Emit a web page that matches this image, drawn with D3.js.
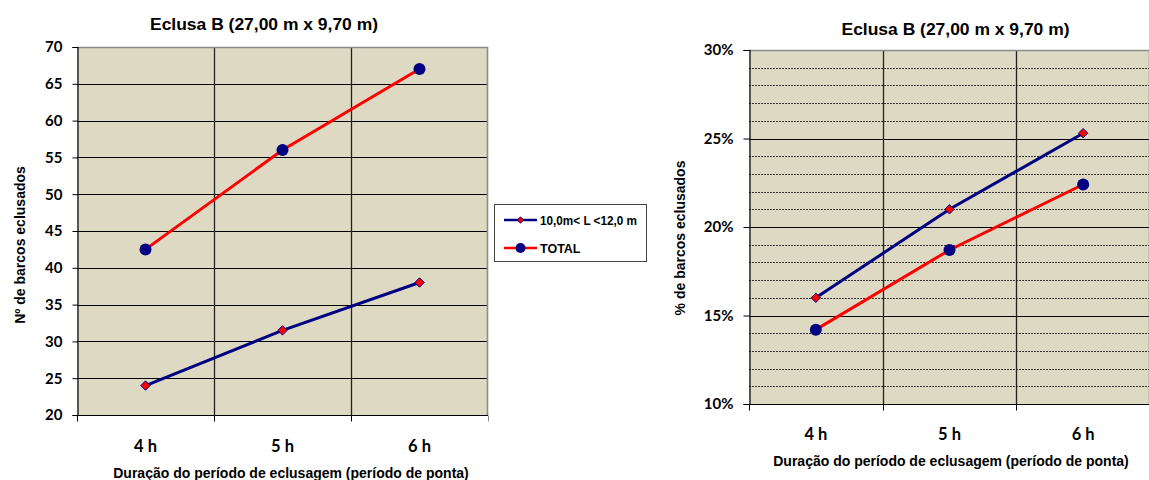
<!DOCTYPE html>
<html>
<head>
<meta charset="utf-8">
<script src="https://cdn.jsdelivr.net/npm/d3@7"></script>
<style>
  html, body { margin: 0; padding: 0; background: #fff; }
  svg { display: block; }
  .title, .axis-title, .legend text { font-family: "Liberation Sans", Arial, sans-serif; font-weight: bold; fill: #000; }
  .tick text { font-family: Lato, "Open Sans", sans-serif; font-weight: bold; fill: #000; }
</style>
</head>
<body>
<svg id="chart" width="1149" height="480"></svg>
<script>
// Durations of the peak period
const categories = ["4 h", "5 h", "6 h"];

// Number of boats locked through
const countMid = [24, 31.5, 38];          // 10,0m< L <12,0 m
const countTotal = [42.5, 56, 67];        // TOTAL
const countTicks = [20, 25, 30, 35, 40, 45, 50, 55, 60, 65, 70];

// Share of boats locked through
const shareMid = [0.160, 0.210, 0.253];
const shareTotal = [0.142, 0.187, 0.224];
const shareTicks = [0.10, 0.15, 0.20, 0.25, 0.30];
const shareMinorTicks = [0.11, 0.12, 0.13, 0.14, 0.16, 0.17, 0.18, 0.19, 0.21, 0.22, 0.23, 0.24, 0.26, 0.27, 0.28, 0.29];

const seriesNames = ["10,0m< L <12,0 m", "TOTAL"];
const chartTitle = "Eclusa B (27,00 m x 9,70 m)";
const xTitle = "Duração do período de eclusagem (período de ponta)";

const NAVY = "#000080", RED = "#FF0000", PLOT_BG = "#DDD9C3";

const svg = d3.select("#chart");

function drawPanel(cfg) {
  const g = svg.append("g");
  const x = d3.scaleBand().domain(categories).range([cfg.left, cfg.right]);
  const y = d3.scaleLinear().domain(cfg.domain).range([cfg.bottom, cfg.top]);

  // plot area
  g.append("rect")
    .attr("x", cfg.left).attr("y", cfg.top)
    .attr("width", cfg.right - cfg.left).attr("height", cfg.bottom - cfg.top)
    .attr("fill", PLOT_BG);

  // minor dotted gridlines
  if (cfg.minor) {
    g.selectAll(".minor").data(cfg.minor).join("line")
      .attr("x1", cfg.left).attr("x2", cfg.right)
      .attr("y1", d => Math.round(y(d)) + 0.5).attr("y2", d => Math.round(y(d)) + 0.5)
      .attr("stroke", "#333").attr("stroke-width", 1).attr("stroke-dasharray", "2,1");
  }

  // major horizontal gridlines
  g.selectAll(".hgrid").data(cfg.ticks.filter(t => t !== cfg.domain[0] && t !== cfg.domain[1])).join("line")
    .attr("x1", cfg.left).attr("x2", cfg.right)
    .attr("y1", d => Math.round(y(d)) + 0.5).attr("y2", d => Math.round(y(d)) + 0.5)
    .attr("stroke", "#000").attr("stroke-width", 1);

  // vertical gridlines at category boundaries
  const bounds = categories.slice(1).map(c => x(c));
  g.selectAll(".vgrid").data(bounds).join("line")
    .attr("x1", d => Math.round(d) + 0.5).attr("x2", d => Math.round(d) + 0.5)
    .attr("y1", cfg.top).attr("y2", cfg.bottom)
    .attr("stroke", "#222").attr("stroke-width", 1.3);

  // plot border (top / right)
  g.append("path")
    .attr("d", `M${cfg.left},${cfg.top + 0.5}H${cfg.right - 0.5}V${cfg.bottom}`)
    .attr("fill", "none").attr("stroke", "#8a8a8a").attr("stroke-width", 1.6);

  // y axis
  const yAxis = d3.axisLeft(y).tickValues(cfg.ticks).tickFormat(cfg.format)
    .tickSize(cfg.tickLen).tickPadding(cfg.tickPad);
  const ya = g.append("g").attr("transform", `translate(${cfg.left + 0.5},0)`).call(yAxis);
  ya.select(".domain").attr("stroke", "#000").attr("stroke-width", 1.2);
  ya.selectAll(".tick line").attr("stroke", "#000");
  ya.selectAll(".tick text").attr("font-size", 15);

  // x axis: boundary ticks plus centered labels
  const xa = g.append("g").attr("transform", `translate(0,${cfg.bottom + 0.5})`);
  xa.append("line").attr("x1", cfg.left).attr("x2", cfg.right)
    .attr("stroke", "#000").attr("stroke-width", 1.2);
  const edges = [cfg.left].concat(bounds, [cfg.right]);
  xa.selectAll(".xt").data(edges).join("line")
    .attr("x1", d => Math.round(d) + 0.5).attr("x2", d => Math.round(d) + 0.5)
    .attr("y1", 0).attr("y2", 6).attr("stroke", (d, i) => i === edges.length - 1 ? "#888" : "#000");
  const xAxis = d3.axisBottom(x).tickSize(0).tickPadding(cfg.xLabelPad);
  const xl = g.append("g").attr("transform", `translate(0,${cfg.bottom})`).call(xAxis);
  xl.select(".domain").remove();
  xl.selectAll(".tick text").attr("font-size", 16.5);

  // series lines and markers
  const cx = c => x(c) + x.bandwidth() / 2;
  const line = d3.line().x((d, i) => cx(categories[i])).y(d => y(d));

  const s1 = cfg.series[0], s2 = cfg.series[1];
  g.append("path").datum(s1).attr("d", line).attr("fill", "none")
    .attr("stroke", NAVY).attr("stroke-width", 3);
  g.append("path").datum(s2).attr("d", line).attr("fill", "none")
    .attr("stroke", RED).attr("stroke-width", 3);

  const diamond = d3.symbol().type(d3.symbolDiamond2).size(56);
  g.selectAll(".m1").data(s1).join("path")
    .attr("transform", (d, i) => `translate(${cx(categories[i])},${y(d)})`)
    .attr("d", diamond).attr("fill", RED).attr("stroke", NAVY).attr("stroke-width", 1);
  g.selectAll(".m2").data(s2).join("circle")
    .attr("cx", (d, i) => cx(categories[i])).attr("cy", d => y(d))
    .attr("r", 6).attr("fill", NAVY);

  // titles
  g.append("text").attr("class", "title")
    .attr("x", cfg.titleX).attr("y", cfg.titleY)
    .attr("text-anchor", "middle").attr("font-size", 16)
    .attr("textLength", 228).attr("lengthAdjust", "spacingAndGlyphs").text(chartTitle);
  g.append("text").attr("class", "axis-title")
    .attr("x", cfg.xTitleX).attr("y", cfg.xTitleY)
    .attr("text-anchor", "middle").attr("font-size", 14).text(xTitle);
  g.append("text").attr("class", "axis-title")
    .attr("transform", `translate(${cfg.yTitleX},${cfg.yTitleY}) rotate(-90)`)
    .attr("text-anchor", "middle").attr("font-size", 14).text(cfg.yTitle);
}

// left panel: boat counts
drawPanel({
  left: 77, right: 488, top: 47, bottom: 415,
  domain: [20, 70], ticks: countTicks, format: d3.format("d"),
  tickLen: 5, tickPad: 10, xLabelPad: 25,
  series: [countMid, countTotal],
  titleX: 264, titleY: 30,
  xTitleX: 291, xTitleY: 478,
  yTitle: "Nº de barcos eclusados", yTitleX: 25, yTitleY: 245
});

// right panel: share of boats
drawPanel({
  left: 749, right: 1150, top: 50, bottom: 404,
  domain: [0.10, 0.30], ticks: shareTicks, minor: shareMinorTicks,
  format: d3.format(".0%"),
  tickLen: 6, tickPad: 10, xLabelPad: 24,
  series: [shareMid, shareTotal],
  titleX: 955.5, titleY: 34.5,
  xTitleX: 951, xTitleY: 466,
  yTitle: "% de barcos eclusados", yTitleX: 685, yTitleY: 238
});

// legend
const legend = svg.append("g").attr("class", "legend");
legend.append("rect").attr("x", 494.5).attr("y", 204.5).attr("width", 152).attr("height", 57)
  .attr("fill", "#fff").attr("stroke", "#444").attr("stroke-width", 1);
const legendRows = [
  { name: seriesNames[0], line: NAVY, y: 220, marker: "diamond", width: 97 },
  { name: seriesNames[1], line: RED, y: 248, marker: "circle", width: null }
];
legendRows.forEach(r => {
  legend.append("line").attr("x1", 504).attr("x2", 537).attr("y1", r.y).attr("y2", r.y)
    .attr("stroke", r.line).attr("stroke-width", 2.5);
  if (r.marker === "diamond") {
    legend.append("path").attr("transform", `translate(520.5,${r.y})`)
      .attr("d", d3.symbol().type(d3.symbolDiamond2).size(26))
      .attr("fill", RED).attr("stroke", NAVY).attr("stroke-width", 1);
  } else {
    legend.append("circle").attr("cx", 520.5).attr("cy", r.y).attr("r", 5).attr("fill", NAVY);
  }
  const t = legend.append("text").attr("x", 540).attr("y", r.y + 4.5).attr("font-size", 12.5).text(r.name);
  if (r.width) t.attr("textLength", r.width).attr("lengthAdjust", "spacingAndGlyphs");
});
</script>
</body>
</html>
